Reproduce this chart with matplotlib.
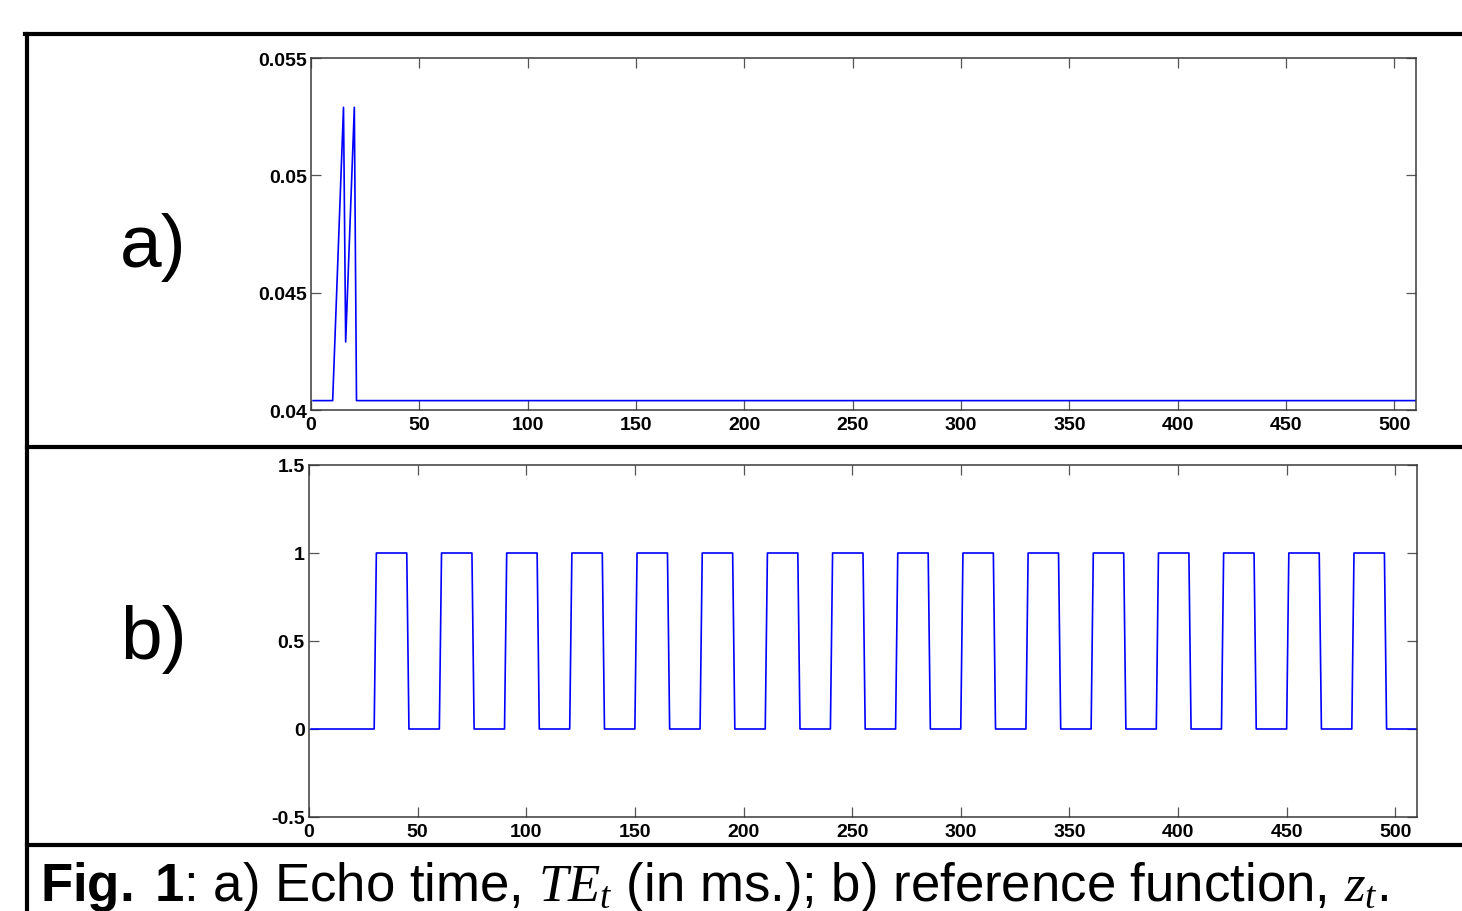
import numpy as np
import matplotlib
matplotlib.use("Agg")
import matplotlib.pyplot as plt
from matplotlib.lines import Line2D

plt.rcParams['font.family'] = ['Liberation Sans', 'DejaVu Sans']
plt.rcParams['mathtext.fontset'] = 'custom'
plt.rcParams['mathtext.rm'] = 'Liberation Sans'
plt.rcParams['mathtext.it'] = 'Liberation Serif:italic'
plt.rcParams['mathtext.bf'] = 'Liberation Sans:bold'

# ---- data ----
# a) Echo time TE_t (sparse breakpoints of the series, t = 1..510)
te_t = [1, 10, 15, 16, 20, 21, 510]
te_values = [0.0404, 0.0404, 0.0529, 0.0429, 0.0529, 0.0404, 0.0404]

# b) reference function z_t: onsets of "on" blocks, each block 15 samples long
n_samples = 510
block_onsets = [31, 61, 91, 121, 151, 181, 211, 241, 271, 301, 331, 361, 391, 421, 451, 481]
block_length = 15

x_ticks = [0, 50, 100, 150, 200, 250, 300, 350, 400, 450, 500]
a_yticks = [0.04, 0.045, 0.05, 0.055]
a_yticklabels = ["0.04", "0.045", "0.05", "0.055"]
b_yticks = [-0.5, 0, 0.5, 1, 1.5]
b_yticklabels = ["-0.5", "0", "0.5", "1", "1.5"]

t = np.arange(1, n_samples + 1)
z = np.zeros(n_samples)
for on in block_onsets:
    z[(t >= on) & (t < on + block_length)] = 1.0

W, H = 1462, 912
fig = plt.figure(figsize=(W / 100, H / 100), dpi=100)

def fx(px):
    return px / W

def fy(py):
    return 1 - py / H

def style(ax, yticks, ylabels, ylim):
    ax.set_xlim(0, 510)
    ax.set_ylim(*ylim)
    ax.set_xticks(x_ticks)
    ax.set_xticklabels([str(v) for v in x_ticks])
    ax.set_yticks(yticks)
    ax.set_yticklabels(ylabels)
    ax.tick_params(direction='in', length=7, width=0.9, color='#555555',
                   top=True, right=True, labelsize=14, pad=3)
    ax.tick_params(axis='x', pad=4)
    for lab in ax.get_xticklabels() + ax.get_yticklabels():
        lab.set_fontweight('bold')
    for s in ax.spines.values():
        s.set_color('#3a3a3a')
        s.set_linewidth(1.1)

# panel a
axa = fig.add_axes([fx(311), fy(411), fx(1416 - 311), (411 - 59) / H])
axa.plot(te_t, te_values, color='#0000ff', lw=1.2)
style(axa, a_yticks, a_yticklabels, (0.04, 0.055))

# panel b
axb = fig.add_axes([fx(309), fy(818), fx(1417 - 309), (818 - 466) / H])
axb.plot(t, z, color='#0000ff', lw=1.2)
style(axb, b_yticks, b_yticklabels, (-0.5, 1.5))

# frame lines
lw = 3.0
fig.add_artist(Line2D([fx(25), 1.0], [fy(34.5), fy(34.5)], color='black', lw=lw))
fig.add_artist(Line2D([fx(26.5), fx(26.5)], [fy(34.5), 0.0], color='black', lw=lw))
fig.add_artist(Line2D([fx(26.5), 1.0], [fy(448), fy(448)], color='black', lw=lw))
fig.add_artist(Line2D([fx(26.5), 1.0], [fy(846), fy(846)], color='black', lw=lw))

# panel labels
fig.text(fx(120), fy(248), "a)", fontsize=54, ha='left', va='center')
fig.text(fx(120), fy(640), "b)", fontsize=54, ha='left', va='center')

# caption
fig.text(fx(40), fy(901),
         r"$\mathbf{Fig.\ 1}$: a) Echo time, $TE_t$ (in ms.); b) reference function, $z_t$.",
         fontsize=38, ha='left', va='baseline')

fig.savefig("out.png", dpi=100)
